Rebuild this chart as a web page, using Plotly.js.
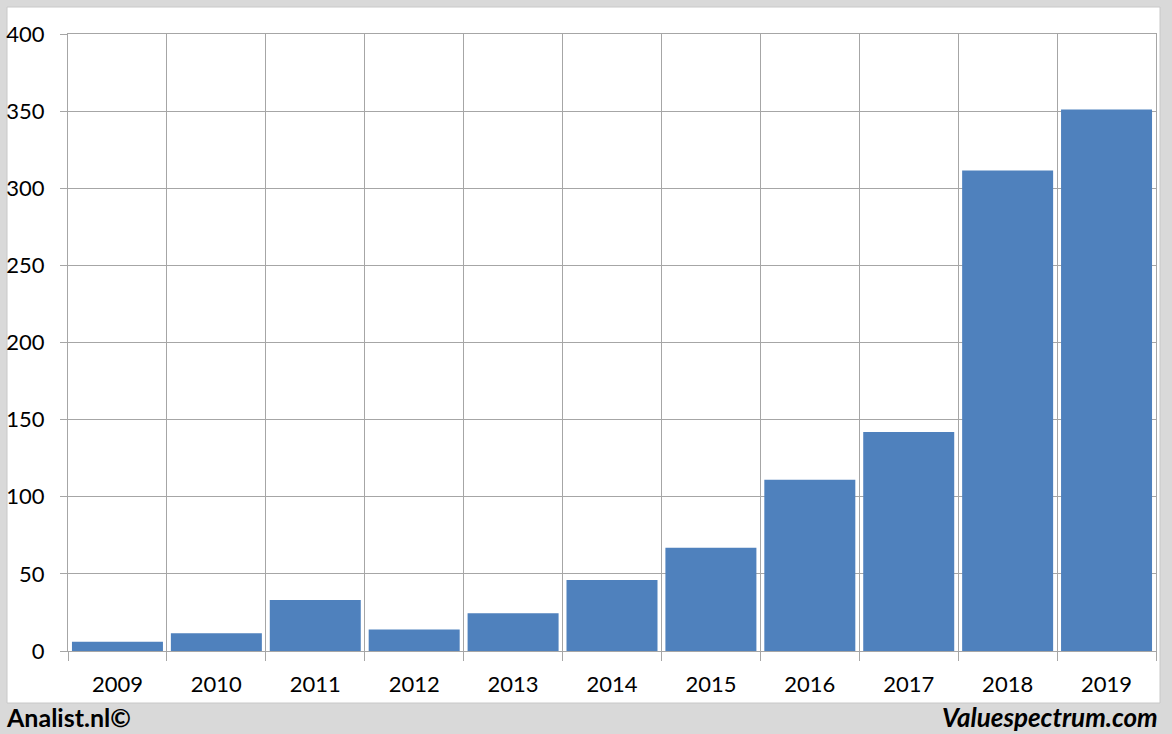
<!DOCTYPE html>
<html>
<head>
<meta charset="utf-8">
<script src="https://cdn.plot.ly/plotly-3.0.1.min.js"></script>
<style>
  html, body { margin: 0; padding: 0; background: #d9d9d9; }
  #chart { width: 1172px; height: 734px; }
</style>
</head>
<body>
<div id="chart"></div>
<script>
const years = ['2009','2010','2011','2012','2013','2014','2015','2016','2017','2018','2019'];
const values = [6, 11.5, 33, 14, 24.5, 46, 67, 111, 142, 311.5, 351];
const yTicks = [0, 50, 100, 150, 200, 250, 300, 350, 400];
const leftCredit = 'Analist.nl©';
const rightCredit = 'Valuespectrum.com';

const gridColor = '#a6a6a6';
const fontFam = 'Lato, "Open Sans", sans-serif';

const trace = {
  type: 'bar',
  x: years,
  y: values,
  marker: { color: '#4f81bd', line: { width: 0 } },
  hoverinfo: 'x+y'
};

const layout = {
  width: 1172,
  height: 734,
  margin: { l: 68, r: 16, t: 34, b: 83, pad: 0 },
  paper_bgcolor: '#d9d9d9',
  plot_bgcolor: 'rgba(0,0,0,0)',
  bargap: 0.08,
  showlegend: false,
  font: { family: fontFam, size: 22, color: '#000000' },
  xaxis: {
    type: 'category',
    range: [-0.5, 10.5],
    tickson: 'boundaries',
    showgrid: true,
    gridcolor: gridColor,
    gridwidth: 1,
    ticks: 'outside',
    ticklen: 9,
    tickcolor: gridColor,
    tickwidth: 1,
    showline: true,
    mirror: true,
    linecolor: gridColor,
    linewidth: 1,
    zeroline: false,
    ticklabelstandoff: 14,
    tickfont: { family: fontFam, size: 22, color: '#000000' },
    fixedrange: true
  },
  yaxis: {
    range: [0, 400],
    tickvals: yTicks,
    ticktext: yTicks.map(String),
    showgrid: true,
    gridcolor: gridColor,
    gridwidth: 1,
    ticks: 'outside',
    ticklen: 7,
    tickcolor: gridColor,
    tickwidth: 1,
    showline: true,
    mirror: true,
    linecolor: gridColor,
    linewidth: 1,
    zeroline: false,
    ticklabelstandoff: 11,
    tickfont: { family: fontFam, size: 22, color: '#000000' },
    fixedrange: true
  },
  shapes: [
    {
      type: 'rect', xref: 'paper', yref: 'paper', layer: 'below',
      x0: (7 - 68) / 1088, x1: (1160 - 68) / 1088,
      y0: (651 - 703) / 617, y1: (651 - 7) / 617,
      fillcolor: '#ffffff',
      line: { color: '#c8c8c8', width: 1 }
    }
  ],
  annotations: [
    {
      text: '<b>' + leftCredit + '</b>',
      xref: 'paper', yref: 'paper',
      x: (4 - 68) / 1088, y: (651 - 717) / 617,
      xanchor: 'left', yanchor: 'middle',
      showarrow: false,
      font: { family: fontFam, size: 25, color: '#000000' }
    },
    {
      text: '<b><i>' + rightCredit + '</i></b>',
      xref: 'paper', yref: 'paper',
      x: (1160 - 68) / 1088, y: (651 - 717) / 617,
      xanchor: 'right', yanchor: 'middle',
      showarrow: false,
      font: { family: fontFam, size: 26, color: '#000000' }
    }
  ]
};

Plotly.newPlot('chart', [trace], layout, { displayModeBar: false, staticPlot: true });
</script>
</body>
</html>
